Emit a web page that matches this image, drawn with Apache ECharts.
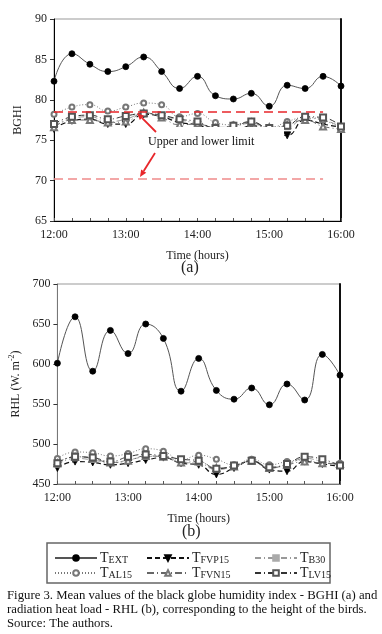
<!DOCTYPE html>
<html>
<head>
<meta charset="utf-8">
<script src="https://cdn.jsdelivr.net/npm/echarts@6/dist/echarts.min.js"></script>
<style>
  html, body { margin: 0; padding: 0; background: #fff; }
  #main { width: 382px; height: 634px; }
</style>
</head>
<body>
<div id="main"></div>
<script>
// time axis (every 15 min)
var times = ['12:00','12:15','12:30','12:45','13:00','13:15','13:30','13:45','14:00',
             '14:15','14:30','14:45','15:00','15:15','15:30','15:45','16:00'];

// (a) BGHI
var bghiEXT   = [82.3, 85.7, 84.4, 83.5, 84.1, 85.3, 83.5, 81.4, 82.9, 80.5, 80.1, 80.8, 79.2, 81.8, 81.4, 82.9, 81.7];
var bghiFVP15 = [76.4, 77.4, 77.6, 77.0, 77.0, 78.2, 77.9, 77.2, 76.9, 76.2, 76.0, 76.8, 76.2, 75.6, 77.5, 77.0, 76.6];
var bghiB30   = [76.8, 77.7, 77.9, 77.3, 77.6, 78.3, 78.0, 77.5, 77.1, 76.6, 76.7, 77.1, 76.5, 76.6, 77.7, 77.5, 76.6];
var bghiAL15  = [78.2, 79.1, 79.4, 78.6, 79.1, 79.6, 79.4, 77.9, 78.3, 77.2, 76.9, 77.1, 76.5, 77.3, 77.8, 77.5, 76.4];
var bghiFVN15 = [76.6, 77.5, 77.5, 77.2, 77.3, 78.4, 77.8, 76.9, 77.0, 76.5, 76.8, 77.2, 76.6, 76.9, 77.5, 76.7, 76.4];
var bghiLV15  = [77.0, 77.9, 78.1, 77.6, 78.0, 78.3, 78.1, 77.6, 77.3, 76.5, 76.8, 77.3, 76.5, 76.8, 77.9, 77.8, 76.7];
var limits = [78.5, 70.2];   // upper, lower
var limitEnd = '15:45';

// (b) RHL
var rhlEXT   = [601, 659, 591, 642, 613, 650, 632, 566, 607, 567, 556, 570, 549, 575, 555, 612, 586];
var rhlFVP15 = [470, 478, 477, 474, 476, 480, 483, 476, 474, 462, 470, 479, 468, 466, 478, 475, 472];
var rhlB30   = [474, 482, 480, 476, 480, 484, 485, 477, 476, 468, 472, 478, 470, 474, 482, 478, 473];
var rhlAL15  = [482, 490, 489, 485, 488, 494, 491, 480, 486, 481, 474, 481, 474, 478, 480, 476, 476];
var rhlFVN15 = [476, 484, 482, 477, 479, 485, 484, 477, 478, 470, 472, 479, 470, 474, 478, 476, 475];
var rhlLV15  = [476, 484, 483, 478, 484, 487, 485, 481, 479, 469, 473, 479, 471, 475, 484, 481, 473];

var SERIF = "'Liberation Serif', 'DejaVu Serif', serif";

// line / marker look of each treatment
var styles = {
    TEXT:   { line: '#555', w: 1,   type: 'solid',      sym: 'circle',        size: 6, fill: '#000', rot: 0,   bw: 0.8 },
    TFVP15: { line: '#111', w: 1.2, type: [5, 3],       sym: 'triangle',      size: 7, fill: '#000', rot: 180, bw: 0.8 },
    TB30:   { line: '#999', w: 1,   type: [6, 3, 1, 3], sym: 'rect',          size: 5, fill: '#aaa', rot: 0,   bw: 0.8 },
    TAL15:  { line: '#777', w: 1,   type: [1, 2],       sym: 'emptyCircle',   size: 5, fill: '#777', rot: 0,   bw: 0.6 },
    TFVN15: { line: '#666', w: 1,   type: [7, 3, 1, 3], sym: 'emptyTriangle', size: 6, fill: '#777', rot: 0,   bw: 0.6 },
    TLV15:  { line: '#333', w: 1,   type: [6, 3, 1, 3], sym: 'emptyRect',     size: 6, fill: '#555', rot: 0,   bw: 0.6 }
};

function mk(name, data, idx) {
    var s = styles[name];
    return {
        name: name,
        type: 'line',
        xAxisIndex: idx,
        yAxisIndex: idx * 2,
        data: data,
        smooth: 0.5,
        symbol: s.sym,
        symbolSize: s.size,
        symbolRotate: s.rot,
        showAllSymbol: true,
        lineStyle: { color: s.line, width: s.w, type: s.type },
        itemStyle: { color: s.fill, borderColor: s.fill, borderWidth: s.bw },
        emphasis: { disabled: true },
        animation: false
    };
}

// red arrow annotation
function arrow(x1, y1, x2, y2) {
    var a = Math.atan2(y2 - y1, x2 - x1), L = 7, W = 3;
    var bx = x2 - L * Math.cos(a), by = y2 - L * Math.sin(a);
    return [
        { type: 'line', z: 110, shape: { x1: x1, y1: y1, x2: bx, y2: by }, style: { stroke: '#e8262a', lineWidth: 1.8 } },
        { type: 'polygon', z: 110, shape: { points: [[x2, y2],
            [bx + W * Math.sin(a), by - W * Math.cos(a)],
            [bx - W * Math.sin(a), by + W * Math.cos(a)]] }, style: { fill: '#e8262a' } }
    ];
}

var axisTxt = { fontFamily: SERIF, fontSize: 12, color: '#222' };

function xAx(idx) {
    return {
        type: 'category', gridIndex: idx, data: times, boundaryGap: false,
        name: 'Time (hours)', nameLocation: 'middle', nameGap: 29,
        nameTextStyle: axisTxt,
        axisLine: { lineStyle: { color: idx ? '#777' : '#000', width: 1 } },
        axisTick: { show: true, inside: true, interval: 0, length: 3, lineStyle: { color: '#555' } },
        axisLabel: Object.assign({ interval: 3, margin: 8 }, axisTxt),
        splitLine: { show: false }
    };
}

function yAx(idx, min, max, step, name) {
    return {
        type: 'value', gridIndex: idx, min: min, max: max, interval: step,
        name: name, nameLocation: 'middle', nameGap: 30,
        nameTextStyle: Object.assign({ rich: { s: { fontFamily: SERIF, fontSize: 8, padding: [0, 0, 7, 0], color: '#222' } } }, axisTxt),
        axisLine: { show: true, onZero: false, lineStyle: { color: idx ? '#777' : '#000', width: 1 } },
        axisTick: { show: true, inside: false, length: 4, lineStyle: { color: '#333' } },
        axisLabel: Object.assign({ margin: 7 }, axisTxt),
        splitLine: { show: false }
    };
}

// right border drawn as an empty right axis
function yRight(idx, min, max) {
    return {
        type: 'value', gridIndex: idx, min: min, max: max, position: 'right',
        axisLine: { show: true, lineStyle: { color: '#111', width: 2 } },
        axisTick: { show: false }, axisLabel: { show: false }, splitLine: { show: false }
    };
}

var legendRich = {
    a: { fontFamily: SERIF, fontSize: 14, color: '#222' },
    b: { fontFamily: SERIF, fontSize: 10, color: '#222', padding: [4, 0, 0, 0] }
};
function leg(names, left) {
    return {
        data: names, orient: 'vertical', left: left, top: 546,
        itemWidth: 42, itemHeight: 7, itemGap: 1,
        selectedMode: false,
        formatter: function (n) { return '{a|T}{b|' + n.slice(1) + '}'; },
        textStyle: { rich: legendRich, padding: [0, 0, 0, -2] }
    };
}

var order = ['TEXT', 'TFVP15', 'TB30', 'TAL15', 'TFVN15', 'TLV15'];
var bghi = [bghiEXT, bghiFVP15, bghiB30, bghiAL15, bghiFVN15, bghiLV15];
var rhl = [rhlEXT, rhlFVP15, rhlB30, rhlAL15, rhlFVN15, rhlLV15];

var series = [];
order.forEach(function (n, i) { series.push(mk(n, bghi[i], 0)); });
order.forEach(function (n, i) { series.push(mk(n, rhl[i], 1)); });

// limit lines (a)
series.push({
    type: 'line', xAxisIndex: 0, yAxisIndex: 0, data: [], silent: true,
    markLine: {
        symbol: 'none', silent: true, animation: false, label: { show: false },
        data: [
            [{ coord: [times[0], limits[0]], lineStyle: { color: '#e8262a' } }, { coord: [limitEnd, limits[0]] }],
            [{ coord: [times[0], limits[1]], lineStyle: { color: '#f08a8a' } }, { coord: [limitEnd, limits[1]] }]
        ],
        lineStyle: { type: [9, 5], width: 1.6 }
    }
});

var chart = echarts.init(document.getElementById('main'), null, { renderer: 'canvas' });

var capFont = '12.75px ' + SERIF;
var graphic = [
    // white label box hiding the curves under the annotation
    { type: 'rect', z: 100, shape: { x: 146, y: 127, width: 138, height: 27 }, style: { fill: '#fff' } },
    { type: 'text', z: 120, left: 148, top: 136, style: { text: 'Upper and lower limit', font: '12px ' + SERIF, fill: '#111' } },
    { type: 'text', z: 120, left: 181, top: 260, style: { text: '(a)', font: '16px ' + SERIF, fill: '#222' } },
    { type: 'text', z: 120, left: 182, top: 524, style: { text: '(b)', font: '16px ' + SERIF, fill: '#222' } },
    { type: 'rect', z: 1, shape: { x: 47, y: 543, width: 283, height: 40 }, style: { fill: 'none', stroke: '#666', lineWidth: 1.5 } },
    { type: 'text', left: 7, top: 589, style: { text: 'Figure 3. Mean values of the black globe humidity index - BGHI (a) and', font: capFont, fill: '#111' } },
    { type: 'text', left: 7, top: 603, style: { text: 'radiation heat load - RHL (b), corresponding to the height of the birds.', font: capFont, fill: '#111' } },
    { type: 'text', left: 7, top: 617, style: { text: 'Source: The authors.', font: capFont, fill: '#111' } }
].concat(arrow(156, 132, 137, 113)).concat(arrow(155, 153, 140, 177));

chart.setOption({
    animation: false,
    backgroundColor: '#fff',
    grid: [
        { left: 54, top: 19, width: 287, height: 202, show: true, borderColor: '#999', borderWidth: 1 },
        { left: 56, top: 284, width: 284, height: 200, show: true, borderColor: '#999', borderWidth: 1 }
    ],
    xAxis: [xAx(0), xAx(1)],
    yAxis: [yAx(0, 65, 90, 5, 'BGHI'), yRight(0, 65, 90),
            yAx(1, 450, 700, 50, 'RHL (W. m{s|-2})'), yRight(1, 450, 700)],
    legend: [leg(['TEXT', 'TAL15'], 49), leg(['TFVP15', 'TFVN15'], 141), leg(['TB30', 'TLV15'], 249)],
    graphic: graphic,
    series: series
});
</script>
</body>
</html>
